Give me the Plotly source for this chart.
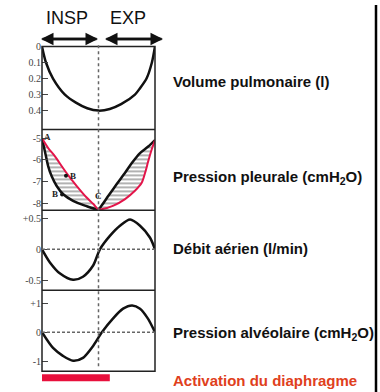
import plotly.graph_objects as go

# ---------------- data (time in s, 0..4; INSP 0-2, EXP 2-4) ----------------
vol_t = [0, 0.14, 0.39, 0.81, 1.2, 1.6, 2.0, 2.4, 2.8, 3.29, 3.47, 3.7, 3.89, 4.0]
vol = [0, 0.10, 0.20, 0.30, 0.35, 0.385, 0.40, 0.39, 0.36, 0.30, 0.26, 0.20, 0.10, 0]

pleu_black_t = [0, 0.14, 0.22, 0.34, 0.52, 0.75, 1.10, 1.52, 1.99,
                2.11, 2.35, 2.64, 2.94, 3.18, 3.47, 3.76, 4.0]
pleu_black = [-5.0, -5.83, -6.29, -6.74, -7.2, -7.58, -7.88, -8.1, -8.27,
              -8.1, -7.65, -7.12, -6.59, -6.14, -5.68, -5.38, -5.08]
pleu_red_t = [0, 0.22, 0.46, 0.70, 0.93, 1.23, 1.58, 1.82, 1.99,
              2.11, 2.53, 2.94, 3.29, 3.53, 3.65, 3.76, 3.88, 4.0]
pleu_red = [-5.0, -5.45, -5.83, -6.29, -6.71, -7.2, -7.73, -8.03, -8.27,
            -8.27, -8.1, -7.8, -7.42, -7.05, -6.59, -6.06, -5.53, -5.08]

flow_t = [0, 0.28, 0.64, 1.10, 1.45, 1.81, 2.05, 2.41, 2.76, 3.12, 3.47, 3.82, 4.0]
flow = [0, -0.21, -0.39, -0.49, -0.44, -0.26, 0, 0.22, 0.38, 0.48, 0.38, 0.19, 0]

alv_t = [0, 0.39, 0.74, 1.10, 1.45, 1.81, 2.12, 2.51, 2.87, 3.19, 3.47, 3.75, 4.0]
alv = [0, -0.54, -0.81, -0.98, -0.88, -0.47, 0, 0.47, 0.81, 0.92, 0.81, 0.47, 0]

activation = [0.0, 2.4]          # diaphragm activation interval (s)
marked_pts_t = [0.85, 0.71]      # points B
marked_pts_v = [-6.73, -7.59]

vol_ticks = [0, 0.1, 0.2, 0.3, 0.4]
vol_ticktext = ["0", "0.1", "0.2", "0.3", "0.4"]
pleu_ticks = [-5, -6, -7, -8]
pleu_ticktext = ["-5", "-6", "-7", "-8"]
flow_ticks = [0.5, 0, -0.5]
flow_ticktext = ["+0.5", "0", "-0.5"]
alv_ticks = [1, 0, -1]
alv_ticktext = ["+1", "0", "-1"]

labels = ["Volume pulmonaire (l)", "Pression pleurale (cmH<sub>2</sub>O)",
          "Débit aérien (l/min)", "Pression alvéolaire (cmH<sub>2</sub>O)"]

# ---------------- layout helpers ----------------
W, H = 380, 392
def px(p):
    return p / W
def py(p):
    return 1 - p / H

BLACK = "#111111"
RED = "#e3154a"
SANS = "Liberation Sans, Arial, sans-serif"
SERIF = "Liberation Serif, Times New Roman, serif"

fig = go.Figure()

# hatched areas between the two pleural curves (two lobes)
iC_b = pleu_black_t.index(1.99)
iC_r = pleu_red_t.index(1.99)
left_x = pleu_black_t[:iC_b + 1] + pleu_red_t[:iC_r + 1][::-1]
left_y = pleu_black[:iC_b + 1] + pleu_red[:iC_r + 1][::-1]
right_x = pleu_black_t[iC_b:] + pleu_red_t[iC_r:][::-1]
right_y = pleu_black[iC_b:] + pleu_red[iC_r:][::-1]
for xs, ys in [(left_x, left_y), (right_x, right_y)]:
    fig.add_trace(go.Scatter(
        x=xs, y=ys, xaxis="x", yaxis="y2", mode="lines", fill="toself",
        line=dict(width=0, shape="spline", smoothing=0.8),
        fillcolor="rgba(0,0,0,0)",
        fillpattern=dict(shape="-", fgcolor="#222222", bgcolor="rgba(255,255,255,0)",
                         size=4, solidity=0.35),
        hoverinfo="skip", showlegend=False))

line_kw = dict(shape="spline", smoothing=0.8)
fig.add_trace(go.Scatter(x=vol_t, y=vol, xaxis="x", yaxis="y", mode="lines",
                         line=dict(color=BLACK, width=2.5, **line_kw), showlegend=False))
fig.add_trace(go.Scatter(x=pleu_black_t, y=pleu_black, xaxis="x", yaxis="y2", mode="lines",
                         line=dict(color=BLACK, width=2.5, **line_kw), showlegend=False))
fig.add_trace(go.Scatter(x=pleu_red_t, y=pleu_red, xaxis="x", yaxis="y2", mode="lines",
                         line=dict(color=RED, width=2, **line_kw), showlegend=False))
fig.add_trace(go.Scatter(x=marked_pts_t, y=marked_pts_v, xaxis="x", yaxis="y2", mode="markers",
                         marker=dict(color=BLACK, size=4), showlegend=False))
fig.add_trace(go.Scatter(x=flow_t, y=flow, xaxis="x", yaxis="y3", mode="lines",
                         line=dict(color=BLACK, width=2.5, **line_kw), showlegend=False))
fig.add_trace(go.Scatter(x=alv_t, y=alv, xaxis="x", yaxis="y4", mode="lines",
                         line=dict(color=BLACK, width=2.5, **line_kw), showlegend=False))

tickfont = dict(family=SERIF, size=10, color="#444444")
yax_common = dict(anchor="x", showgrid=False, zeroline=False, ticks="inside",
                  ticklen=6, tickwidth=1, tickcolor="#444444", tickfont=tickfont,
                  showline=False, fixedrange=True)

shapes = []
# panel frames
shapes.append(dict(type="rect", xref="paper", yref="paper", x0=px(42), x1=px(155),
                   y0=py(371), y1=py(42), line=dict(color="#222222", width=1.5)))
for yy in [126, 208, 289]:
    shapes.append(dict(type="line", xref="paper", yref="paper", x0=px(42), x1=px(155),
                       y0=py(yy), y1=py(yy), line=dict(color="#222222", width=1.5)))
# dotted vertical line at end of inspiration
shapes.append(dict(type="line", xref="x", yref="paper", x0=2, x1=2,
                   y0=py(366), y1=py(38), line=dict(color="#666666", width=1.5, dash="dot")))
# zero lines
for ya in ["y3", "y4"]:
    shapes.append(dict(type="line", xref="x", yref=ya, x0=0, x1=4, y0=0, y1=0,
                       line=dict(color="#666666", width=1.5, dash="3px,2px")))
# diaphragm activation bar
shapes.append(dict(type="rect", xref="x", yref="paper", x0=activation[0], x1=activation[1],
                   y0=py(381), y1=py(374), fillcolor="#e8103c", line=dict(width=0)))
# right border line
shapes.append(dict(type="line", xref="paper", yref="paper", x0=px(376), x1=px(376),
                   y0=0, y1=1, line=dict(color="#000000", width=2.5)))

ann = []
ann.append(dict(x=px(67), y=py(13), xref="paper", yref="paper", text="INSP", showarrow=False,
                xanchor="center", yanchor="middle",
                font=dict(family=SANS, size=18, color=BLACK)))
ann.append(dict(x=px(128), y=py(13), xref="paper", yref="paper", text="EXP", showarrow=False,
                xanchor="center", yanchor="middle",
                font=dict(family=SANS, size=18, color=BLACK)))
# double arrows
for (a, b) in [(41, 98), (105, 163)]:
    L = b - a
    ann.append(dict(x=px(a), y=py(34.5), xref="paper", yref="paper", text="", showarrow=True,
                    ax=L, ay=0, arrowhead=2, arrowsize=1, arrowwidth=2.5, arrowcolor=BLACK))
    ann.append(dict(x=px(b), y=py(34.5), xref="paper", yref="paper", text="", showarrow=True,
                    ax=-L, ay=0, arrowhead=2, arrowsize=1, arrowwidth=2.5, arrowcolor=BLACK))
# letters
for (t, v, s) in [(0.18, -4.92, "A"), (1.08, -6.73, "B"), (0.46, -7.55, "B"), (1.99, -7.68, "Ċ")]:
    ann.append(dict(x=t, y=v, xref="x", yref="y2", text="<b>" + s + "</b>", showarrow=False,
                    font=dict(family=SERIF, size=9, color="#222222")))
# right-hand labels
for txt, yy in zip(labels, [77, 175, 247, 333]):
    ann.append(dict(x=px(171), y=py(yy), xref="paper", yref="paper", text="<b>" + txt + "</b>",
                    xanchor="left", yanchor="middle", showarrow=False,
                    font=dict(family=SANS, size=15, color=BLACK)))
ann.append(dict(x=px(171), y=py(380), xref="paper", yref="paper",
                text="<b>Activation du diaphragme</b>", xanchor="left", yanchor="middle",
                showarrow=False, font=dict(family=SANS, size=15, color="#e0401c")))

fig.update_layout(
    width=W, height=H, margin=dict(l=0, r=0, t=0, b=0),
    paper_bgcolor="white", plot_bgcolor="rgba(0,0,0,0)",
    showlegend=False,
    xaxis=dict(domain=[px(42), px(155)], range=[0, 4], visible=False, anchor="y4",
               fixedrange=True),
    yaxis=dict(domain=[py(126), py(42)], range=[0.517, 0.0], tickvals=vol_ticks,
               ticktext=vol_ticktext, **yax_common),
    yaxis2=dict(domain=[py(208), py(126)], range=[-8.32, -4.59], tickvals=pleu_ticks,
                ticktext=pleu_ticktext, **yax_common),
    yaxis3=dict(domain=[py(289), py(208)], range=[-0.659, 0.627], tickvals=flow_ticks,
                ticktext=flow_ticktext, **yax_common),
    yaxis4=dict(domain=[py(371), py(289)], range=[-1.34, 1.44], tickvals=alv_ticks,
                ticktext=alv_ticktext, **yax_common),
    shapes=shapes, annotations=ann,
)

fig.write_html("out.html", config={"displayModeBar": False},
               post_script="document.body.style.margin='0';document.body.style.overflow='hidden';")
